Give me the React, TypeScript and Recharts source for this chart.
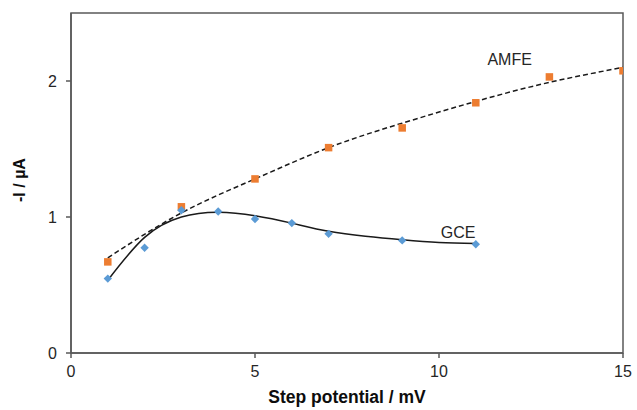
import React from 'react';
import { ComposedChart, XAxis, YAxis, Scatter, Line, ReferenceDot, ReferenceArea } from 'recharts';

// AMFE measured points
const amfeX = [1, 3, 5, 7, 9, 11, 13, 15];
const amfeY = [0.67, 1.075, 1.28, 1.51, 1.655, 1.84, 2.03, 2.075];
// GCE measured points
const gceX = [1, 2, 3, 4, 5, 6, 7, 9, 11];
const gceY = [0.547, 0.774, 1.05, 1.04, 0.985, 0.955, 0.876, 0.828, 0.8];
// Trend curves
const amfeTrendX = [1, 3, 5, 7, 9, 11, 13, 15];
const amfeTrendY = [0.7, 1.03, 1.28, 1.51, 1.69, 1.85, 1.99, 2.1];
const gceTrendX = [1, 2, 3, 4, 5, 6, 7, 8, 9, 10, 11];
const gceTrendY = [0.535, 0.85, 1.0, 1.035, 1.01, 0.955, 0.895, 0.858, 0.832, 0.812, 0.805];

const xTicks = [0, 5, 10, 15];
const yTicks = [0, 1, 2];

const amfe = amfeX.map((x, i) => ({ x, y: amfeY[i] }));
const gce = gceX.map((x, i) => ({ x, y: gceY[i] }));
const amfeTrend = amfeTrendX.map((x, i) => ({ x, y: amfeTrendY[i] }));
const gceTrend = gceTrendX.map((x, i) => ({ x, y: gceTrendY[i] }));

const FONT = '"Liberation Sans", Arial, sans-serif';
const AXIS = '#595959';

const Square = (p: any) => {
  const s = 7.5;
  return <rect x={p.cx - s / 2} y={p.cy - s / 2} width={s} height={s} fill="#ED7D31" />;
};
const Diamond = (p: any) => {
  const r = 4.2;
  return (
    <path
      d={`M${p.cx},${p.cy - r}L${p.cx + r},${p.cy}L${p.cx},${p.cy + r}L${p.cx - r},${p.cy}Z`}
      fill="#5B9BD5"
    />
  );
};

const TextLabel = (text: string) => (props: any) => {
  const { cx, cy } = props;
  return (
    <text x={cx} y={cy} textAnchor="middle" fontFamily={FONT} fontSize={16} fill="#262626">
      {text}
    </text>
  );
};

export default function App() {
  return (
    <div style={{ position: 'absolute', left: 0, top: 0, width: 637, height: 410, background: '#fff' }}>
      <ComposedChart width={637} height={410} margin={{ top: 13, right: 14, bottom: 0, left: 0 }}>
        <ReferenceArea x1={0} x2={15} y1={0} y2={2.5} fill="none" stroke={AXIS} strokeWidth={1.5} />
        <XAxis
          type="number"
          dataKey="x"
          domain={[0, 15]}
          ticks={xTicks}
          allowDataOverflow
          height={57}
          stroke={AXIS}
          strokeWidth={1.5}
          tickSize={5}
          tickMargin={8}
          tick={{ fill: '#262626', fontSize: 16, fontFamily: FONT }}
          label={{
            value: 'Step potential / mV',
            position: 'insideBottom',
            offset: 7,
            fill: '#0d0d0d',
            fontSize: 17.5,
            fontWeight: 'bold',
            fontFamily: FONT,
          }}
        />
        <YAxis
          type="number"
          dataKey="y"
          domain={[0, 2.5]}
          ticks={yTicks}
          allowDataOverflow
          width={71}
          stroke={AXIS}
          strokeWidth={1.5}
          tickSize={5}
          tickMargin={9}
          tick={{ fill: '#262626', fontSize: 16, fontFamily: FONT }}
          label={{
            content: () => (
              <text
                x={25}
                y={180}
                transform="rotate(-90 25 180)"
                textAnchor="middle"
                fontFamily={FONT}
                fontSize={16}
                fontWeight="bold"
                fill="#0d0d0d"
              >
                -I / µA
              </text>
            ),
          }}
        />
        <Scatter data={amfe} shape={Square} isAnimationActive={false} />
        <Scatter data={gce} shape={Diamond} isAnimationActive={false} />
        <Line
          data={amfeTrend}
          dataKey="y"
          type="natural"
          stroke="#1a1a1a"
          strokeWidth={1.5}
          strokeDasharray="5 3"
          dot={false}
          activeDot={false}
          isAnimationActive={false}
        />
        <Line
          data={gceTrend}
          dataKey="y"
          type="natural"
          stroke="#1a1a1a"
          strokeWidth={1.5}
          dot={false}
          activeDot={false}
          isAnimationActive={false}
        />
        <ReferenceDot x={11.92} y={2.117} r={0} fill="none" stroke="none" shape={TextLabel('AMFE')} />
        <ReferenceDot x={10.52} y={0.845} r={0} fill="none" stroke="none" shape={TextLabel('GCE')} />
      </ComposedChart>
    </div>
  );
}
